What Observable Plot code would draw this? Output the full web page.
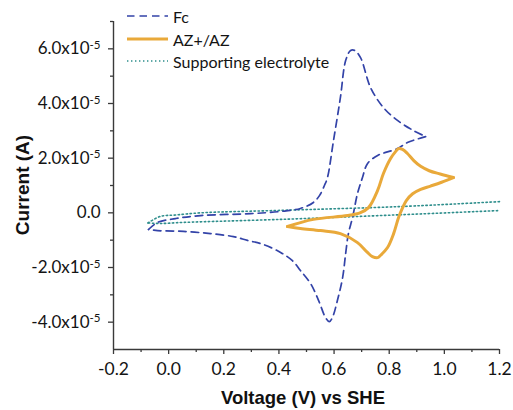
<!DOCTYPE html>
<html>
<head>
<meta charset="utf-8">
<script src="https://cdn.jsdelivr.net/npm/d3@7"></script>
<script src="https://cdn.jsdelivr.net/npm/@observablehq/plot@0.6"></script>
<style>
  html, body { margin: 0; padding: 0; background: #fff; }
  svg { display: block; }
</style>
</head>
<body>
<div id="chart"></div>
<script>
// ---- Data (Voltage in V vs SHE, Current in A) ----
// Fc: forward (anodic) scan then reverse (cathodic) scan
const fcForwardV = [-0.073, -0.040, 0.025, 0.116, 0.297, 0.406, 0.478, 0.525, 0.547, 0.565, 0.576, 0.598, 0.623, 0.642, 0.660, 0.675, 0.696, 0.732, 0.779, 0.830, 0.888, 0.932];
const fcForwardI = [-0.61e-5, -0.35e-5, -0.21e-5, -0.10e-5, -0.03e-5, 0.05e-5, 0.16e-5, 0.38e-5, 0.63e-5, 1.00e-5, 1.29e-5, 2.65e-5, 4.22e-5, 5.57e-5, 5.94e-5, 5.94e-5, 5.68e-5, 4.59e-5, 3.85e-5, 3.38e-5, 3.01e-5, 2.79e-5];
const fcReverseV = [0.932, 0.866, 0.830, 0.787, 0.758, 0.721, 0.703, 0.685, 0.667, 0.652, 0.642, 0.631, 0.612, 0.594, 0.583, 0.569, 0.544, 0.515, 0.478, 0.449, 0.406, 0.344, 0.286, 0.235, 0.152, 0.054, -0.040, -0.073];
const fcReverseI = [2.79e-5, 2.57e-5, 2.35e-5, 2.21e-5, 2.10e-5, 1.80e-5, 1.29e-5, 0.71e-5, -0.17e-5, -0.76e-5, -1.49e-5, -2.37e-5, -3.21e-5, -3.83e-5, -3.98e-5, -3.83e-5, -3.21e-5, -2.59e-5, -2.11e-5, -1.75e-5, -1.45e-5, -1.16e-5, -1.01e-5, -0.87e-5, -0.76e-5, -0.68e-5, -0.65e-5, -0.61e-5];

// AZ+/AZ
const azForwardV = [0.431, 0.525, 0.649, 0.696, 0.725, 0.758, 0.779, 0.805, 0.823, 0.834, 0.848, 0.866, 0.890, 0.914, 0.945, 0.985, 1.033];
const azForwardI = [-0.50e-5, -0.24e-5, -0.10e-5, 0.01e-5, 0.19e-5, 0.82e-5, 1.44e-5, 1.99e-5, 2.24e-5, 2.35e-5, 2.32e-5, 2.17e-5, 1.90e-5, 1.70e-5, 1.54e-5, 1.42e-5, 1.29e-5];
const azReverseV = [1.033, 0.990, 0.950, 0.914, 0.885, 0.862, 0.848, 0.834, 0.816, 0.794, 0.768, 0.758, 0.739, 0.721, 0.685, 0.623, 0.551, 0.478, 0.431];
const azReverseI = [1.29e-5, 1.12e-5, 0.98e-5, 0.86e-5, 0.70e-5, 0.45e-5, 0.17e-5, -0.17e-5, -0.76e-5, -1.27e-5, -1.56e-5, -1.64e-5, -1.60e-5, -1.45e-5, -1.09e-5, -0.76e-5, -0.65e-5, -0.57e-5, -0.50e-5];

// Supporting electrolyte
const seForwardV = [-0.075, -0.030, 0.025, 0.116, 0.406, 0.841, 1.200];
const seForwardI = [-0.37e-5, -0.13e-5, -0.08e-5, 0.00e-5, 0.09e-5, 0.23e-5, 0.41e-5];
const seReverseV = [1.193, 0.841, 0.406, 0.054, -0.030, -0.075];
const seReverseI = [0.08e-5, -0.07e-5, -0.24e-5, -0.35e-5, -0.39e-5, -0.37e-5];

// Ticks
const xTicks = [-0.2, 0.0, 0.2, 0.4, 0.6, 0.8, 1.0, 1.2];
const xTickLabels = ["-0.2", "0.0", "0.2", "0.4", "0.6", "0.8", "1.0", "1.2"];
const xMinorTicks = [-0.1, 0.1, 0.3, 0.5, 0.7, 0.9, 1.1];
const yTicks = [-4e-5, -2e-5, 0, 2e-5, 4e-5, 6e-5];
const yTickMantissa = ["-4.0x10", "-2.0x10", "0.0", "2.0x10", "4.0x10", "6.0x10"];
const yTickExponent = ["-5", "-5", "", "-5", "-5", "-5"];
const yMinorTicks = [-3e-5, -1e-5, 1e-5, 3e-5, 5e-5, 7e-5];

const seriesNames = ["Fc", "AZ+/AZ", "Supporting electrolyte"];
const seriesColors = ["#3343A8", "#E9A93A", "#2E8E8C"];

// ---- Build tables ----
function table(series, scan, V, I) {
  return V.map((v, i) => ({series, scan, v, i: I[i], key: series + "-" + scan}));
}
const fcData = [...table("Fc", "f", fcForwardV, fcForwardI), ...table("Fc", "r", fcReverseV, fcReverseI)];
const azData = [...table("AZ+/AZ", "f", azForwardV, azForwardI), ...table("AZ+/AZ", "r", azReverseV, azReverseI)];
const seData = [...table("SE", "f", seForwardV, seForwardI), ...table("SE", "r", seReverseV, seReverseI)];

const near = (arr, d) => arr.findIndex(t => Math.abs(t - d) < 1e-12);
const axisColor = "#3a3a3a";

const chart = Plot.plot({
  width: 513,
  height: 410,
  marginLeft: 113,
  marginRight: 14,
  marginTop: 21,
  marginBottom: 61,
  x: {domain: [-0.2, 1.2]},
  y: {domain: [-5e-5, 7e-5]},
  style: {fontFamily: "Lato, 'Open Sans', sans-serif", fontSize: "17px", color: "#141414", background: "#fff", overflow: "visible"},
  marks: [
    Plot.line(seData, {x: "v", y: "i", z: "key", stroke: seriesColors[2], strokeWidth: 1.6, strokeDasharray: "1.4,2.6", curve: "catmull-rom"}),
    Plot.line(fcData, {x: "v", y: "i", z: "key", stroke: seriesColors[0], strokeWidth: 1.7, strokeDasharray: "7.5,5", curve: "catmull-rom"}),
    Plot.line(azData, {x: "v", y: "i", z: "key", stroke: seriesColors[1], strokeWidth: 3, strokeLinejoin: "round", curve: "catmull-rom"}),
    Plot.ruleX([-0.2], {stroke: axisColor, strokeWidth: 1.4}),
    Plot.ruleY([-5e-5], {stroke: axisColor, strokeWidth: 1.4}),
    Plot.axisX({ticks: xTicks, tickSize: 5, tickPadding: 8, stroke: axisColor, strokeWidth: 1.3, fontSize: 17.5, label: null,
      tickFormat: d => xTickLabels[near(xTicks, d)]}),
    Plot.axisX({ticks: xMinorTicks, tickSize: 3, stroke: axisColor, strokeWidth: 1.3, label: null, tickFormat: () => ""}),
    Plot.axisY({ticks: yTicks, tickSize: 5, tickPadding: 8, stroke: axisColor, strokeWidth: 1.3, fontSize: 17, label: null,
      tickFormat: d => yTickMantissa[near(yTicks, d)]}),
    Plot.axisY({ticks: yMinorTicks, tickSize: 3, stroke: axisColor, strokeWidth: 1.3, label: null, tickFormat: () => ""})
  ]
});

document.getElementById("chart").appendChild(chart);
const svg = d3.select(chart);

// Superscript exponents on y tick labels
svg.selectAll('g[aria-label="y-axis tick label"] text').each(function() {
  const t = this.textContent;
  const k = yTickMantissa.indexOf(t);
  if (k >= 0 && yTickExponent[k]) {
    d3.select(this).append("tspan")
      .attr("dy", "-0.45em")
      .attr("font-size", "11.5px")
      .text(yTickExponent[k]);
  }
});

// Axis titles
svg.append("text")
  .attr("transform", "translate(22,185) rotate(-90)")
  .attr("text-anchor", "middle")
  .attr("dominant-baseline", "central")
  .attr("font-family", "'Liberation Sans', Arial, sans-serif")
  .attr("font-weight", "bold")
  .attr("font-size", "19px")
  .attr("fill", "#111")
  .text("Current (A)");

svg.append("text")
  .attr("x", 303)
  .attr("y", 404)
  .attr("text-anchor", "middle")
  .attr("font-family", "'Liberation Sans', Arial, sans-serif")
  .attr("font-weight", "bold")
  .attr("font-size", "18.5px")
  .attr("fill", "#111")
  .text("Voltage (V) vs SHE");

// Legend
const legendDash = ["7.5,5", null, "1.4,2.6"];
const legendWidth = [1.7, 3, 1.6];
const legendY = [16, 39, 61];
const lg = svg.append("g").attr("aria-label", "legend");
seriesNames.forEach((name, k) => {
  const line = lg.append("line")
    .attr("x1", 127).attr("x2", 168)
    .attr("y1", legendY[k]).attr("y2", legendY[k])
    .attr("stroke", seriesColors[k])
    .attr("stroke-width", legendWidth[k]);
  if (legendDash[k]) line.attr("stroke-dasharray", legendDash[k]);
  lg.append("text")
    .attr("x", 173).attr("y", legendY[k])
    .attr("text-anchor", "start")
    .attr("dominant-baseline", "central")
    .attr("font-family", "Lato, 'Open Sans', sans-serif")
    .attr("font-size", "16px")
    .attr("fill", "#141414")
    .text(name);
});
</script>
</body>
</html>
